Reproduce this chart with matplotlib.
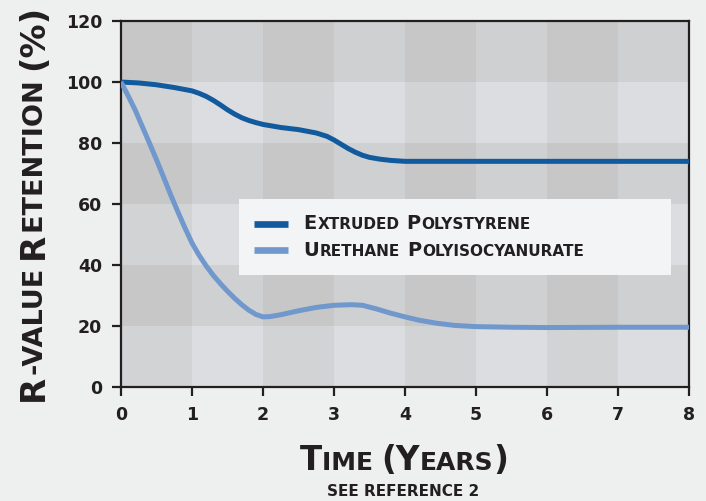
import matplotlib
matplotlib.use("Agg")
import matplotlib.pyplot as plt
from matplotlib.colors import ListedColormap
from matplotlib.offsetbox import HPacker, TextArea
import numpy as np

#==============================================================================
# Data
#==============================================================================
years = [0, 1, 2, 3, 4, 5, 6, 7, 8]
retention_ticks = [0, 20, 40, 60, 80, 100, 120]

xps_t = [0, 0.25, 0.5, 0.75, 1.0, 1.1, 1.2, 1.3, 1.4, 1.5, 1.6, 1.7, 1.8, 1.9,
         2.0, 2.25, 2.5, 2.75, 2.9, 3.0, 3.1, 3.2, 3.3, 3.4, 3.5, 3.65, 3.8,
         4.0, 5, 6, 7, 8]
xps_r = [100, 99.7, 99.1, 98.2, 97.1, 96.3, 95.3, 94.0, 92.5, 90.9, 89.5, 88.3, 87.4, 86.7,
         86.1, 85.1, 84.4, 83.3, 82.2, 81.0, 79.6, 78.2, 77.0, 76.0, 75.3, 74.7, 74.3,
         74.0, 74, 74, 74, 74]

pir_t = [0, 0.1, 0.2, 0.3, 0.4, 0.5, 0.6, 0.7, 0.8, 0.9, 1.0, 1.1, 1.2, 1.3, 1.4,
         1.5, 1.6, 1.7, 1.8, 1.9, 2.0, 2.1, 2.25, 2.5, 2.75, 3.0, 3.25, 3.4, 3.6,
         3.8, 4.0, 4.2, 4.45, 4.7, 5, 5.5, 6, 7, 8]
pir_r = [100, 95.5, 90.8, 85.4, 80.0, 74.5, 68.8, 63.0, 57.5, 52.2, 47.2, 43.2, 39.7, 36.6, 33.9,
         31.4, 29.1, 27.0, 25.2, 23.8, 23.0, 23.1, 23.7, 25.0, 26.1, 26.8, 27.0, 26.8, 25.6,
         24.2, 23.0, 21.9, 20.9, 20.2, 19.8, 19.6, 19.5, 19.6, 19.6]

series_names = ["Extruded Polystyrene", "Urethane Polyisocyanurate"]
series_colors = ["#125a9e", "#7098cc"]
checker_colors = ["#dcdde0", "#d2d3d5", "#cfd0d2", "#c7c7c7"]

ink = "#231f20"
plt.rcParams["font.family"] = "DejaVu Sans"
plt.rcParams["font.weight"] = "bold"

fig = plt.figure(figsize=(7.06, 5.01), dpi=100, facecolor="#eeefef")
ax = fig.add_axes([0.1714, 0.2275, 0.8045, 0.7305])

#==============================================================================
# Checkered background: dark rows / dark columns
#==============================================================================
row_dark = (np.arange(len(retention_ticks) - 1) % 2 == 1).astype(int)
col_dark = (np.arange(len(years) - 1) % 2 == 0).astype(int)
cells = 2 * row_dark[:, None] + col_dark[None, :]
ax.pcolormesh(years, retention_ticks, cells, cmap=ListedColormap(checker_colors),
              vmin=-0.5, vmax=3.5, zorder=0)

l1, = ax.plot(xps_t, xps_r, color=series_colors[0], lw=3.6, solid_capstyle="butt",
              solid_joinstyle="round", zorder=3)
l2, = ax.plot(pir_t, pir_r, color=series_colors[1], lw=3.6, solid_capstyle="butt",
              solid_joinstyle="round", zorder=3)

ax.set_xlim(0, 8)
ax.set_ylim(0, 120)
ax.set_xticks(years)
ax.set_yticks(retention_ticks)
ax.tick_params(direction="out", length=6.5, width=1.6, pad=7, labelsize=12.5,
               colors=ink)
for s in ax.spines.values():
    s.set_linewidth(1.6)
    s.set_color(ink)


def split_caps(s, big, small):
    out = []
    for ch in s:
        size = small if (ch.islower() or ch in "- ") else big
        if out and out[-1][1] == size:
            out[-1][0] += ch.upper()
        else:
            out.append([ch.upper(), size])
    return out


#==============================================================================
# Legend (small caps labels)
#==============================================================================
leg = ax.legend([l1, l2], series_names, loc="center",
                bbox_to_anchor=(0.2077, 0.298, 0.7606, 0.224), mode="expand",
                facecolor="#f3f4f6", edgecolor="none", framealpha=1, fancybox=False,
                fontsize=11, handlelength=2.2, handletextpad=1.0,
                labelspacing=0.5, borderpad=1.0, borderaxespad=0)
for h in leg.legend_handles:
    h.set_linewidth(4.8)
for col in leg._legend_handle_box.get_children():
    for item in col.get_children():
        hbox, tbox = item.get_children()
        words = tbox.get_text().split(" ")
        tbox.set_text(words[0][0])
        tbox._text.set_fontsize(14)
        tbox._text.set_color(ink)
        word_boxes = []
        for i, w in enumerate(words):
            first = tbox if i == 0 else TextArea(w[0], textprops=dict(fontsize=14, color=ink, fontweight="bold"))
            rest = TextArea(w[1:].upper(), textprops=dict(fontsize=11, color=ink, fontweight="bold"))
            word_boxes.append(HPacker(children=[first, rest], pad=0, sep=0.6, align="baseline"))
        packed = HPacker(children=word_boxes, pad=0, sep=5, align="baseline")
        packed.set_figure(fig)
        item._children[1] = packed

#==============================================================================
# Axis titles in small caps
#==============================================================================
r = fig.canvas.get_renderer()


def seg_width(txt, size):
    # advance width: |txt| minus ||
    a = fig.text(0, 0, "|" + txt + "|", fontsize=size)
    b = fig.text(0, 0, "||", fontsize=size)
    w = a.get_window_extent(r).width - b.get_window_extent(r).width
    a.remove()
    b.remove()
    return w


def smallcaps(x_px, y_px, s, big, small, rotation=0):
    segs = split_caps(s, big, small)
    widths = [seg_width(t, sz) for t, sz in segs]
    pos = -sum(widths) / 2
    W, H = fig.bbox.width, fig.bbox.height
    for (t, sz), w in zip(segs, widths):
        if t.strip():
            if rotation == 90:
                fig.text(x_px / W, (y_px + pos) / H, t, fontsize=sz, rotation=90,
                         rotation_mode="anchor", ha="left", va="baseline", color=ink)
            else:
                fig.text((x_px + pos) / W, y_px / H, t, fontsize=sz,
                         ha="left", va="baseline", color=ink)
        pos += w


smallcaps(42.7, 298, "R-value Retention (%)", 24.5, 19.5, rotation=90)
smallcaps(404, 31, "Time (Years)", 23.5, 18)
fig.text(403 / 706, 5 / 501, "SEE REFERENCE 2", fontsize=11, ha="center",
         va="baseline", color=ink)

fig.savefig("out.png", dpi=100, facecolor=fig.get_facecolor())
